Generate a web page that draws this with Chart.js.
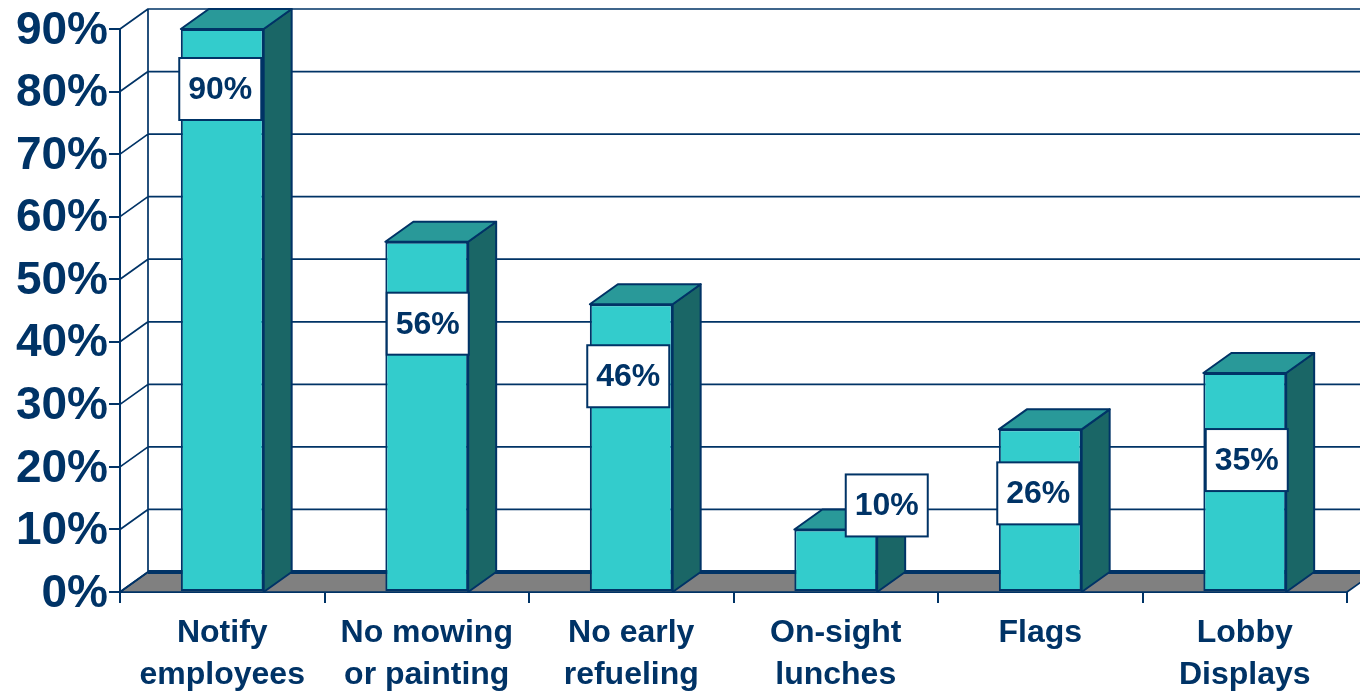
<!DOCTYPE html>
<html>
<head>
<meta charset="utf-8">
<title>Chart</title>
<script src="https://cdn.jsdelivr.net/npm/chart.js"></script>
<style>
  html, body { margin: 0; padding: 0; background: #fff; overflow: hidden; }
  canvas { display: block; }
</style>
</head>
<body>
<canvas id="chart" width="1360" height="691"></canvas>
<script>
const categories = [['Notify', 'employees'], ['No mowing', 'or painting'], ['No early', 'refueling'], ['On-sight', 'lunches'], ['Flags'], ['Lobby', 'Displays']];
const values = [90, 56, 46, 10, 26, 35];
const yTicks = [0, 10, 20, 30, 40, 50, 60, 70, 80, 90];

const NAVY = '#003366';
const DEPTH_X = 28, DEPTH_Y = 20; // how far the back wall sits behind the front plane

// hand placed value boxes: offset of the box centre from the bar centre / bar top
const labelDx = [-2, 1, -3, 51, -2, 2];
const labelDy = [60, 82, 72, -24, 64, 87];

function poly(ctx, pts, fill) {
  ctx.beginPath();
  pts.forEach((p, i) => i ? ctx.lineTo(p[0], p[1]) : ctx.moveTo(p[0], p[1]));
  ctx.closePath();
  ctx.fillStyle = fill;
  ctx.fill();
  ctx.stroke();
}

const box3d = {
  id: 'box3d',
  // walls, floor and the side + top faces of the bars
  beforeDatasetsDraw(chart) {
    const ctx = chart.ctx, y = chart.scales.y, area = chart.chartArea;
    const base = y.getPixelForValue(0);
    ctx.save();
    ctx.strokeStyle = NAVY;
    ctx.lineWidth = 1.7;
    ctx.lineJoin = 'round';

    poly(ctx, [[area.left, base], [area.left + DEPTH_X, base - DEPTH_Y], [area.right + DEPTH_X, base - DEPTH_Y], [area.right, base]], '#808080');

    ctx.beginPath();
    ctx.moveTo(area.left + DEPTH_X, y.getPixelForValue(90) - DEPTH_Y);
    ctx.lineTo(area.left + DEPTH_X, base - DEPTH_Y);
    yTicks.forEach(t => {
      const py = y.getPixelForValue(t);
      ctx.moveTo(area.left, py);
      ctx.lineTo(area.left + DEPTH_X, py - DEPTH_Y);
      ctx.lineTo(chart.width + DEPTH_X, py - DEPTH_Y);
    });
    ctx.stroke();

    ctx.lineWidth = 4;
    ctx.beginPath();
    ctx.moveTo(area.left + DEPTH_X, base - DEPTH_Y);
    ctx.lineTo(chart.width, base - DEPTH_Y);
    ctx.stroke();

    ctx.lineWidth = 2;
    chart.getDatasetMeta(0).data.forEach(bar => {
      const half = bar.width / 2, l = bar.x - half, r = bar.x + half;
      poly(ctx, [[r, base], [r + DEPTH_X, base - DEPTH_Y], [r + DEPTH_X, bar.y - DEPTH_Y], [r, bar.y]], '#1A6666');
      poly(ctx, [[l, bar.y], [l + DEPTH_X, bar.y - DEPTH_Y], [r + DEPTH_X, bar.y - DEPTH_Y], [r, bar.y]], '#299999');
    });
    ctx.restore();
  },
  // white value boxes on top of everything
  afterDatasetsDraw(chart) {
    const ctx = chart.ctx;
    ctx.save();
    chart.getDatasetMeta(0).data.forEach((bar, i) => {
      const cx = bar.x + labelDx[i], cy = bar.y + labelDy[i];
      ctx.fillStyle = '#fff';
      ctx.strokeStyle = NAVY;
      ctx.lineWidth = 2;
      ctx.fillRect(cx - 41, cy - 31, 82, 62);
      ctx.strokeRect(cx - 41, cy - 31, 82, 62);
      ctx.fillStyle = NAVY;
      ctx.font = 'bold 32px "Liberation Sans"';
      ctx.textAlign = 'center';
      ctx.textBaseline = 'middle';
      ctx.fillText(values[i] + '%', cx, cy + 1);
    });
    ctx.restore();
  }
};

new Chart(document.getElementById('chart'), {
  type: 'bar',
  data: {
    labels: categories,
    datasets: [{
      data: values,
      backgroundColor: '#33CCCC',
      borderColor: NAVY,
      borderWidth: 2,
      borderSkipped: false,
      barPercentage: 0.405,
      categoryPercentage: 1
    }]
  },
  options: {
    responsive: false,
    animation: false,
    layout: { padding: { top: 29, right: 13 } },
    plugins: { legend: { display: false }, tooltip: { enabled: false } },
    scales: {
      x: {
        afterFit: s => { s.height = 99; },
        grid: { drawOnChartArea: false, color: NAVY, lineWidth: 2, tickLength: 11 },
        border: { color: NAVY, width: 2 },
        ticks: {
          color: NAVY,
          padding: 9,
          maxRotation: 0,
          autoSkip: false,
          font: { family: 'Liberation Sans', weight: 'bold', size: 32, lineHeight: 1.31 }
        }
      },
      y: {
        min: 0,
        max: 90,
        afterFit: s => { s.width = 120; },
        afterBuildTicks: s => { s.ticks = yTicks.map(v => ({ value: v })); },
        grid: { drawOnChartArea: false, color: NAVY, lineWidth: 2, tickLength: 11 },
        border: { color: NAVY, width: 2 },
        ticks: {
          color: NAVY,
          padding: 1,
          labelOffset: 2,
          callback: v => v + '%',
          font: { family: 'Liberation Sans', weight: 'bold', size: 46 }
        }
      }
    }
  },
  plugins: [box3d]
});
</script>
</body>
</html>
